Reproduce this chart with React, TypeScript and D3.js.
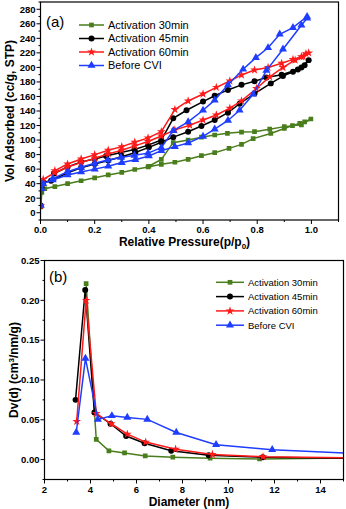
import React from 'react';
import * as d3 from 'd3';

// ---- panel (a): N2 isotherms, adsorption then desorption branch ----
const isoNames = ['Activation 30min', 'Activation 45min', 'Activation 60min', 'Before CVI'];

const ads30 = [[0.001, 8], [0.005, 28], [0.016, 33], [0.053, 36], [0.1, 40], [0.15, 44], [0.2, 48], [0.25, 52], [0.3, 55.5], [0.348, 59.5], [0.397, 63], [0.446, 66.6], [0.496, 69.5], [0.545, 73.5], [0.594, 78.5], [0.643, 82.6], [0.696, 88.6], [0.742, 94], [0.785, 102], [0.85, 109], [0.9, 116], [0.93, 120], [0.957, 123], [0.975, 125], [0.998, 129]];
const des30 = [[0.963, 121], [0.9, 118.5], [0.846, 115], [0.79, 111.5], [0.742, 111], [0.69, 109.3], [0.643, 107], [0.594, 104], [0.545, 100], [0.49, 96.4], [0.446, 73.5], [0.4, 64]];

const ads45 = [[0.001, 10], [0.004, 35], [0.01, 42], [0.039, 44], [0.1, 55], [0.15, 62], [0.2, 67], [0.25, 72], [0.3, 77], [0.35, 83], [0.4, 90], [0.446, 97], [0.49, 104], [0.545, 111.5], [0.594, 119.4], [0.643, 127.6], [0.692, 137.7], [0.735, 150], [0.79, 164], [0.85, 178], [0.895, 188], [0.932, 194], [0.963, 200], [0.99, 210]];
const des45 = [[0.975, 203], [0.95, 197], [0.89, 190], [0.834, 186], [0.79, 181], [0.742, 176], [0.692, 169], [0.643, 161], [0.6, 153], [0.539, 141], [0.49, 130], [0.446, 100], [0.397, 93], [0.347, 87], [0.297, 83], [0.242, 78], [0.2, 74], [0.15, 70], [0.1, 63], [0.05, 54]];

const ads60 = [[0.001, 10], [0.003, 40], [0.01, 46], [0.053, 55], [0.1, 63], [0.15, 69], [0.2, 75], [0.25, 81], [0.3, 86], [0.348, 92], [0.397, 98], [0.446, 105.6], [0.496, 114], [0.551, 120.5], [0.6, 127.6], [0.649, 134.5], [0.699, 144], [0.742, 154], [0.797, 171], [0.846, 187], [0.895, 200], [0.94, 210], [0.97, 214.8], [0.99, 220]];
const des60 = [[0.98, 219], [0.963, 214.8], [0.932, 211], [0.89, 205.7], [0.84, 200], [0.79, 196.4], [0.742, 189.6], [0.699, 181.3], [0.649, 172.6], [0.6, 163.4], [0.545, 153.8], [0.496, 142], [0.446, 111.5], [0.397, 103], [0.348, 97], [0.3, 91], [0.25, 86], [0.2, 80], [0.15, 74], [0.1, 67], [0.053, 58]];

const adsCVI = [[0.001, 10], [0.004, 33], [0.01, 40], [0.045, 45], [0.1, 52], [0.15, 56], [0.2, 60], [0.25, 64], [0.3, 69], [0.35, 73], [0.4, 78], [0.446, 85.4], [0.496, 91], [0.545, 96], [0.6, 105], [0.643, 115], [0.692, 127], [0.735, 141], [0.785, 163], [0.834, 196], [0.895, 225], [0.963, 258], [0.984, 267.6]];
const desCVI = [[0.984, 270], [0.932, 254.7], [0.883, 245.6], [0.84, 227], [0.795, 213.4], [0.748, 197.4], [0.692, 176], [0.643, 155], [0.6, 141], [0.545, 125], [0.49, 113], [0.446, 89.5], [0.397, 82], [0.347, 79], [0.297, 76], [0.248, 72.5], [0.2, 68], [0.15, 62.5], [0.1, 56.5], [0.045, 47]];

// ---- panel (b): pore size distribution ----
const psd30 = [[3.81, 0.221], [4.25, 0.0255], [4.8, 0.011], [5.48, 0.0084], [6.38, 0.0046], [7.58, 0.003], [9.2, 0.0017], [11.35, 0.0008], [15.5, 0.002]];
const psd45 = [[3.35, 0.075], [3.77, 0.213], [4.17, 0.059], [4.87, 0.045], [5.55, 0.0296], [6.35, 0.0205], [7.51, 0.011], [9.14, 0.0055], [11.49, 0.003], [15.5, 0.0015]];
const psd60 = [[3.4, 0.048], [3.81, 0.2], [4.25, 0.058], [4.9, 0.045], [5.6, 0.032], [6.4, 0.022], [7.7, 0.013], [9.3, 0.0065], [11.5, 0.0035], [15.5, 0.002]];
const psdCVI = [[3.38, 0.034], [3.78, 0.127], [4.32, 0.0505], [4.93, 0.055], [5.6, 0.053], [6.47, 0.0505], [7.73, 0.034], [9.46, 0.0187], [11.9, 0.0125], [15.5, 0.0075]];

const colors = ['#4a7d1c', '#000000', '#ff1a1a', '#1f3dff'];
const symbols = [d3.symbolSquare, d3.symbolCircle, d3.symbolStar, d3.symbolTriangle];
const symSize = [22, 28, 24, 28];

const isoSeries = [
  ads30.concat(des30),
  ads45.concat(des45),
  ads60.concat(des60),
  adsCVI.concat(desCVI),
];
const psdSeries = [psd30, psd45, psd60, psdCVI];

const FONT = 'Arial, "Liberation Sans", sans-serif';

function ticks(lo: number, hi: number, step: number) {
  const out: number[] = [];
  for (let v = lo; v <= hi + step * 1e-6; v += step) out.push(+v.toFixed(6));
  return out;
}

function Panel(props: any) {
  const { x, y, series, xMajor, xMinor, yMajor, yMinor, xFmt, yFmt, id, legend, label, xTitle, yTitle } = props;
  const [x0, x1] = x.range();
  const [y0, y1] = y.range(); // y0 bottom, y1 top
  const line = d3.line<number[]>().x(d => x(d[0])).y(d => y(d[1]));
  return (
    <g>
      <defs>
        <clipPath id={id}>
          <rect x={x0} y={y1} width={x1 - x0} height={y0 - y1} />
        </clipPath>
      </defs>
      <g clipPath={`url(#${id})`}>
        {series.map((s: number[][], i: number) => (
          <g key={i}>
            <path d={line(s) || ''} fill="none" stroke={colors[i]} strokeWidth={1.5} />
            {s.map((p, j) => (
              <path key={j} transform={`translate(${x(p[0])},${y(p[1])})`}
                d={d3.symbol().type(symbols[i]).size(symSize[i])() || ''} fill={colors[i]} />
            ))}
          </g>
        ))}
      </g>
      <rect x={x0} y={y1} width={x1 - x0} height={y0 - y1} fill="none" stroke="#000" strokeWidth={1.2} />
      {/* x ticks */}
      {xMinor.map((v: number) => (
        <line key={'xm' + v} x1={x(v)} x2={x(v)} y1={y0} y2={y0 + 2} stroke="#000" />
      ))}
      {xMajor.map((v: number) => (
        <g key={'x' + v}>
          <line x1={x(v)} x2={x(v)} y1={y0} y2={y0 + 4} stroke="#000" />
          <text x={x(v)} y={y0 + 13} textAnchor="middle" fontSize={9.5} fontWeight="bold" fontFamily={FONT}>{xFmt(v)}</text>
        </g>
      ))}
      {/* y ticks */}
      {yMinor.map((v: number) => (
        <line key={'ym' + v} x1={x0 - 2} x2={x0} y1={y(v)} y2={y(v)} stroke="#000" />
      ))}
      {yMajor.map((v: number) => (
        <g key={'y' + v}>
          <line x1={x0 - 4} x2={x0} y1={y(v)} y2={y(v)} stroke="#000" />
          <text x={x0 - 5} y={y(v) + 3.3} textAnchor="end" fontSize={9.5} fontWeight="bold" fontFamily={FONT}>{yFmt(v)}</text>
        </g>
      ))}
      <text x={(x0 + x1) / 2 - 5} y={y0 + 26} textAnchor="middle" fontSize={12} fontWeight="bold" fontFamily={FONT}>{xTitle}</text>
      <text transform={`translate(${x0 - 27},${(y0 + y1) / 2}) rotate(-90)`} textAnchor="middle" fontSize={12} fontWeight="bold" fontFamily={FONT}>{yTitle}</text>
      <text x={label.x} y={label.y} fontSize={15} fontFamily={FONT}>{label.text}</text>
      {isoNames.map((n, i) => {
        const ly = legend.y + i * legend.dy;
        return (
          <g key={n}>
            <line x1={legend.x} x2={legend.x + legend.w} y1={ly} y2={ly} stroke={colors[i]} strokeWidth={1.5} />
            <path transform={`translate(${legend.x + legend.w / 2},${ly})`}
              d={d3.symbol().type(symbols[i]).size(symSize[i])() || ''} fill={colors[i]} />
            <text x={legend.x + legend.w + 4} y={ly + legend.fs * 0.36} fontSize={legend.fs} fontFamily={FONT}>{n}</text>
          </g>
        );
      })}
    </g>
  );
}

export default function App() {
  const xa = d3.scaleLinear().domain([0, 1.1]).range([40.5, 338.5]);
  const ya = d3.scaleLinear().domain([-10, 290]).range([220, 2]);
  const xb = d3.scaleLinear().domain([2, 15]).range([44.5, 343.5]);
  const yb = d3.scaleLinear().domain([-0.025, 0.25]).range([479.5, 260.5]);

  return (
    <svg width={346} height={509} style={{ position: 'absolute', left: 0, top: 0, background: '#fff' }}>
      <Panel id="clipA" x={xa} y={ya} series={isoSeries}
        xMajor={ticks(0, 1, 0.2)} xMinor={ticks(0.1, 1.1, 0.2)}
        yMajor={ticks(0, 280, 20)} yMinor={ticks(-10, 290, 20)}
        xFmt={(v: number) => v.toFixed(1)} yFmt={(v: number) => String(v)}
        xTitle={<tspan>Relative Pressure(p/p<tspan fontSize={8} dy={3}>0</tspan><tspan dy={-3}>)</tspan></tspan>}
        yTitle="Vol Adsorbed (cc/g, STP)"
        label={{ x: 46, y: 27, text: '(a)' }}
        legend={{ x: 79, y: 25, dy: 13.5, w: 25, fs: 11 }} />
      <Panel id="clipB" x={xb} y={yb} series={psdSeries}
        xMajor={ticks(2, 14, 2)} xMinor={ticks(3, 15, 2)}
        yMajor={ticks(0, 0.25, 0.05)} yMinor={ticks(-0.025, 0.25, 0.05)}
        xFmt={(v: number) => String(v)} yFmt={(v: number) => v.toFixed(2)}
        xTitle="Diameter (nm)"
        yTitle={<tspan>Dv(d) (cm<tspan fontSize={8} dy={-4}>3</tspan><tspan dy={4}>/nm/g)</tspan></tspan>}
        label={{ x: 49, y: 282, text: '(b)' }}
        legend={{ x: 216, y: 282.3, dy: 14.3, w: 28, fs: 9.5 }} />
    </svg>
  );
}
